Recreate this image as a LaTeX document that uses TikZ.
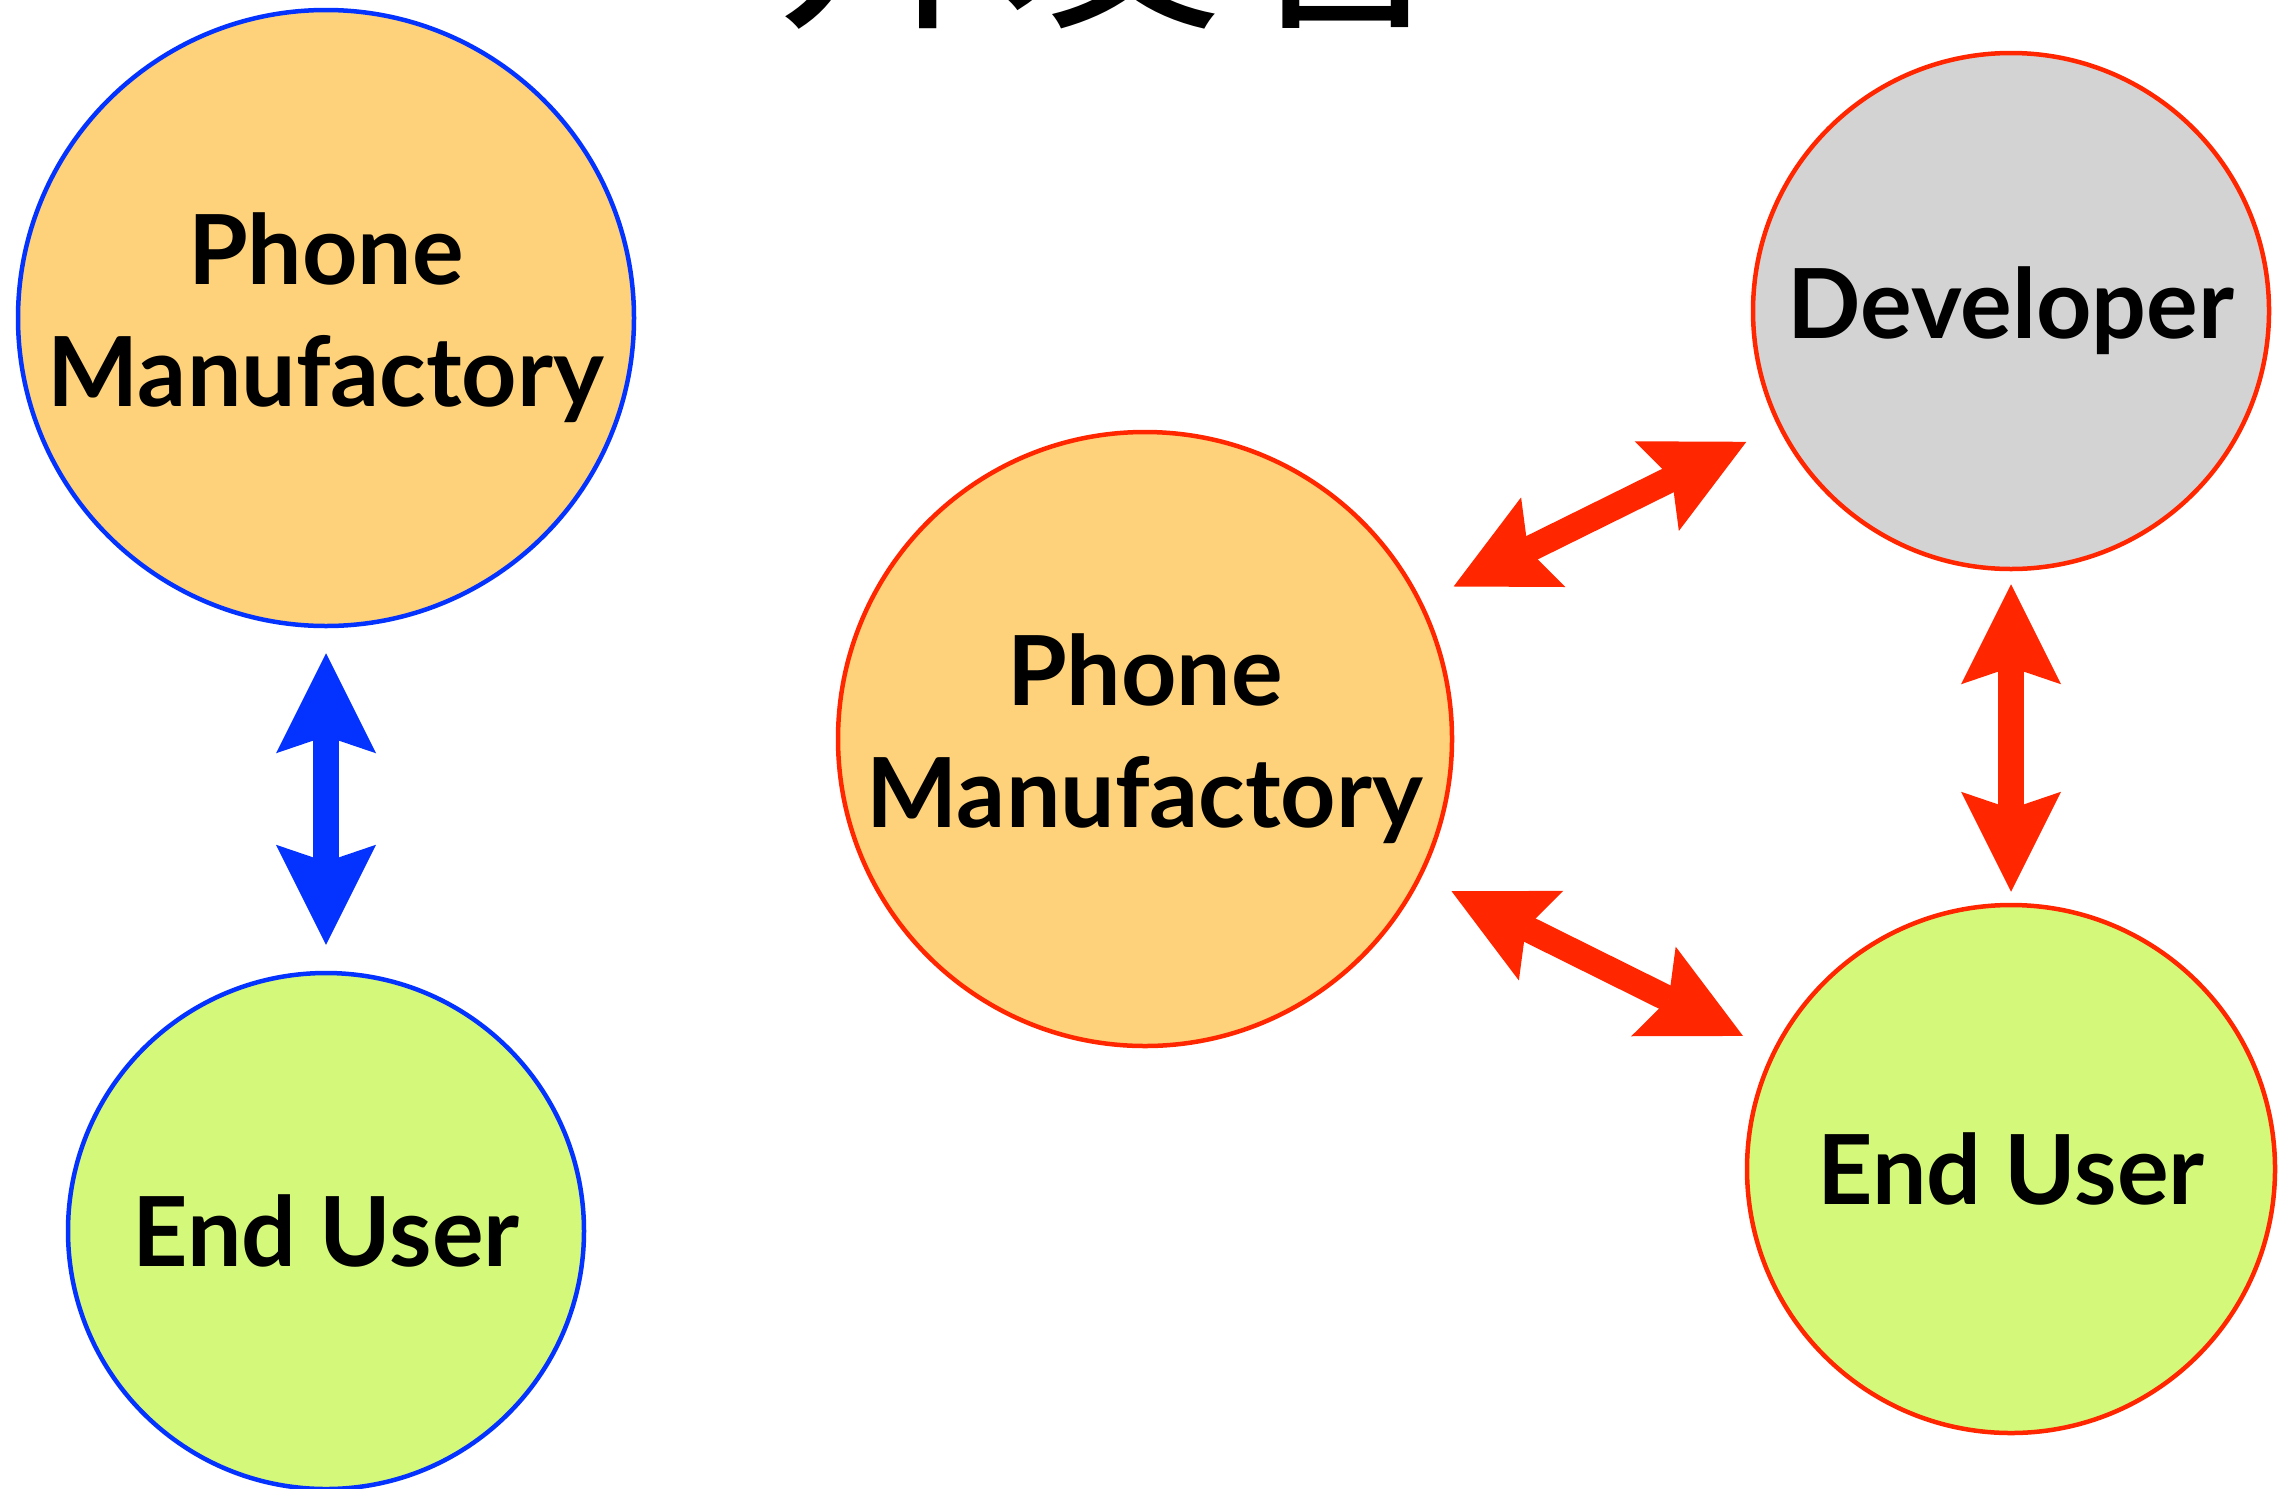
\documentclass[tikz,border=0pt]{standalone}
\usepackage{fontspec}
\setmainfont{Lato}
\newfontfamily\cjk{Noto Sans CJK SC}
\usetikzlibrary{arrows.meta}

\definecolor{mfcfill}{RGB}{253,210,122}
\definecolor{userfill}{RGB}{212,249,122}
\definecolor{devfill}{RGB}{211,211,211}
\definecolor{linkblue}{RGB}{4,51,255}
\definecolor{linkred}{RGB}{255,38,0}

\begin{document}
\begin{tikzpicture}[x=0.1mm, y=-0.1mm,
  party/.style={circle, inner sep=0pt, line width=0.45mm, align=center,
    font=\bfseries\fontsize{27.5}{34.7}\selectfont},
  bigarrow/.style={line width=2.6mm,
    {Stealth[length=10mm, width=10mm, inset=1.7mm, line width=0pt]}-{Stealth[length=10mm, width=10mm, inset=1.7mm, line width=0pt]}}]

\useasboundingbox (0,0) rectangle (2285,1488);
\clip (0,0) rectangle (2285,1488);

\node [anchor=base, font=\cjk\fontsize{64}{70}\selectfont] (title) at (1111,10) {开发者};

% before
\node [party, fill=mfcfill, draw=linkblue, minimum size=61.6mm] (pmA) at (326,318) {Phone\\Manufactory};
\node [party, fill=userfill, draw=linkblue, minimum size=51.6mm] (euA) at (326,1231) {End User};

\draw [bigarrow, color=linkblue, shorten <=2.5mm, shorten >=2.6mm] (pmA) -- (euA);

% after
\node [party, fill=mfcfill, draw=linkred, minimum size=61.4mm] (pmB) at (1145,739) {Phone\\Manufactory};
\node [party, fill=devfill, draw=linkred, minimum size=51.6mm] (dev) at (2011,311) {Developer};
\node [party, fill=userfill, draw=linkred, minimum size=52.8mm] (euB) at (2011,1169) {End User};

\draw [bigarrow, color=linkred, shorten <=3.5mm, shorten >=3.5mm] (pmB) -- (dev);
\draw [bigarrow, color=linkred, shorten <=3.3mm, shorten >=3.3mm] (pmB) -- (euB);
\draw [bigarrow, color=linkred, shorten <=1.3mm, shorten >=1.1mm] (dev) -- (euB);

\end{tikzpicture}
\end{document}
